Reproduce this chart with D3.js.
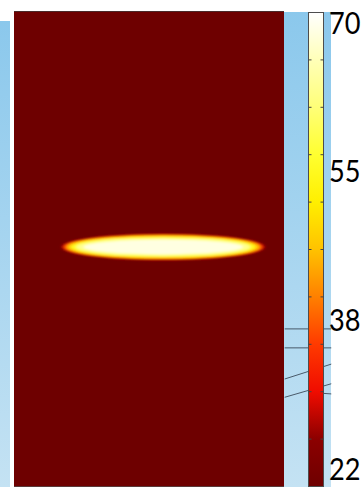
<!DOCTYPE html>
<html>
<head>
<meta charset="utf-8">
<script src="https://cdn.jsdelivr.net/npm/d3@7"></script>
<style>
  html, body { margin: 0; padding: 0; background: #ffffff; }
  svg { display: block; }
</style>
</head>
<body>
<svg id="chart" width="364" height="487"></svg>
<script>
// Temperature range of the field (colour bar limits)
const tempDomain = [22, 70];
// Colour bar tick positions (ten equal steps between the limits)
const colorTicks = [22, 26.8, 31.6, 36.4, 41.2, 46, 50.8, 55.6, 60.4, 65.2, 70];
// Colour bar labels, top to bottom
const colorLabels = ["70", "55", "38", "22"];
// Colour map stops: temperature -> colour
const cmapValues = [22, 26.8, 31.6, 36.4, 41.2, 46, 50.8, 55.6, 60.4, 65.2, 70];
const cmapColors = ["#6e0000", "#8c0000", "#f00c00", "#ff3a00", "#ff8000", "#ffc200",
                    "#ffef00", "#ffff30", "#ffff78", "#ffffb8", "#ffffff"];
// Ambient temperature of the slab
const ambientTemp = 22;
// Hot spot isotherm bands (temperature, half-length and half-thickness in mm)
const bandTemps = [24, 30, 38, 46, 54, 62, 68];
const bandRx    = [15.2, 15.0, 14.7, 14.3, 13.7, 12.9, 11.8];
const bandRy    = [2.00, 1.93, 1.85, 1.72, 1.56, 1.34, 1.06];
// Hot spot centre (mm)
const spotCenter = [22.1, 35.3];
// Model extent shown in the plot (mm)
const modelX = [0, 40];
const modelY = [0, 70];
// Geometry edges visible beside the slab (mm)
const edgeLines = [
  [[40.1, 23.2], [47.0, 23.2]],
  [[40.1, 20.4], [47.0, 20.4]],
  [[40.1, 15.8], [47.0, 18.0]],
  [[40.1, 13.1], [47.0, 15.1]],
  [[45.5, 13.7], [47.0, 13.6]]
];

const svg = d3.select("#chart");
const defs = svg.append("defs");

// Scales
const x = d3.scaleLinear().domain(modelX).range([14, 284]);
const y = d3.scaleLinear().domain(modelY).range([486, 12]);
const color = d3.scaleLinear().domain(cmapValues).range(cmapColors).clamp(true);
const cbar = d3.scaleLinear().domain(tempDomain).range([486.5, 12.5]);
const labelPos = d3.scalePoint().domain(colorLabels).range([21.5, 468]);

// Background gradient of the viewport
const bg = defs.append("linearGradient").attr("id", "bg")
  .attr("x1", 0).attr("y1", 0).attr("x2", 0).attr("y2", 1);
bg.append("stop").attr("offset", "0%").attr("stop-color", "#8bc8ec");
bg.append("stop").attr("offset", "100%").attr("stop-color", "#c4e2f3");

svg.append("rect").attr("x", 0).attr("y", 21).attr("width", 10).attr("height", 466)
  .attr("fill", "url(#bg)");
svg.append("rect").attr("x", 284).attr("y", 12).attr("width", 47).attr("height", 475)
  .attr("fill", "url(#bg)");

// Geometry edges
svg.append("g").selectAll("line").data(edgeLines).join("line")
  .attr("x1", d => x(d[0][0])).attr("y1", d => y(d[0][1]))
  .attr("x2", d => x(d[1][0])).attr("y2", d => y(d[1][1]))
  .attr("stroke", "#3c4b5a").attr("stroke-width", 0.9);

// Slab temperature field
const clip = defs.append("clipPath").attr("id", "slab");
clip.append("rect").attr("x", x(modelX[0])).attr("y", y(modelY[1]))
  .attr("width", x(modelX[1]) - x(modelX[0])).attr("height", y(modelY[0]) - y(modelY[1]));

const blur = defs.append("filter").attr("id", "soft")
  .attr("x", "-20%").attr("y", "-100%").attr("width", "140%").attr("height", "300%");
blur.append("feGaussianBlur").attr("stdDeviation", "1.4 1.1");

const field = svg.append("g").attr("clip-path", "url(#slab)");
field.append("rect")
  .attr("x", x(modelX[0])).attr("y", y(modelY[1]))
  .attr("width", x(modelX[1]) - x(modelX[0])).attr("height", y(modelY[0]) - y(modelY[1]))
  .attr("fill", color(ambientTemp));

const bands = bandTemps.map((t, i) => ({ t, rx: bandRx[i], ry: bandRy[i] }));
field.append("g").attr("filter", "url(#soft)")
  .selectAll("ellipse").data(bands).join("ellipse")
  .attr("cx", x(spotCenter[0])).attr("cy", y(spotCenter[1]))
  .attr("rx", d => x(d.rx) - x(0)).attr("ry", d => y(0) - y(d.ry))
  .attr("fill", d => color(d.t));

// Slab outline edges
svg.append("line").attr("x1", x(modelX[0])).attr("x2", x(modelX[1]))
  .attr("y1", y(modelY[1]) - 0.5).attr("y2", y(modelY[1]) - 0.5)
  .attr("stroke", "#4a2a2a").attr("stroke-width", 1);
svg.append("line").attr("x1", x(modelX[0])).attr("x2", x(modelX[1]))
  .attr("y1", y(modelY[0]) + 0.5).attr("y2", y(modelY[0]) + 0.5)
  .attr("stroke", "#5a3a3a").attr("stroke-width", 1);

// Colour bar
const cb = defs.append("linearGradient").attr("id", "cbar")
  .attr("x1", 0).attr("y1", 1).attr("x2", 0).attr("y2", 0);
cmapValues.forEach((v, i) => {
  cb.append("stop")
    .attr("offset", ((v - tempDomain[0]) / (tempDomain[1] - tempDomain[0]) * 100) + "%")
    .attr("stop-color", cmapColors[i]);
});

const cbX = 308.5, cbW = 15;
svg.append("rect")
  .attr("x", cbX).attr("y", cbar(tempDomain[1]))
  .attr("width", cbW).attr("height", cbar(tempDomain[0]) - cbar(tempDomain[1]))
  .attr("fill", "url(#cbar)")
  .attr("stroke", "#4d4d4d").attr("stroke-width", 1);

const tickG = svg.append("g");
tickG.selectAll("line.l").data(colorTicks.slice(1, -1)).join("line").attr("class", "l")
  .attr("x1", cbX).attr("x2", cbX + 3)
  .attr("y1", d => cbar(d)).attr("y2", d => cbar(d))
  .attr("stroke", "#444").attr("stroke-width", 1);
tickG.selectAll("line.r").data(colorTicks.slice(1, -1)).join("line").attr("class", "r")
  .attr("x1", cbX + cbW - 3).attr("x2", cbX + cbW)
  .attr("y1", d => cbar(d)).attr("y2", d => cbar(d))
  .attr("stroke", "#444").attr("stroke-width", 1);

svg.append("g").selectAll("text").data(colorLabels).join("text")
  .attr("x", 329)
  .attr("y", d => labelPos(d))
  .attr("dominant-baseline", "central")
  .attr("font-family", "Lato, 'Liberation Sans', sans-serif")
  .attr("font-size", 31)
  .attr("textLength", 31.5)
  .attr("lengthAdjust", "spacingAndGlyphs")
  .attr("fill", "#000")
  .text(d => d);
</script>
</body>
</html>
